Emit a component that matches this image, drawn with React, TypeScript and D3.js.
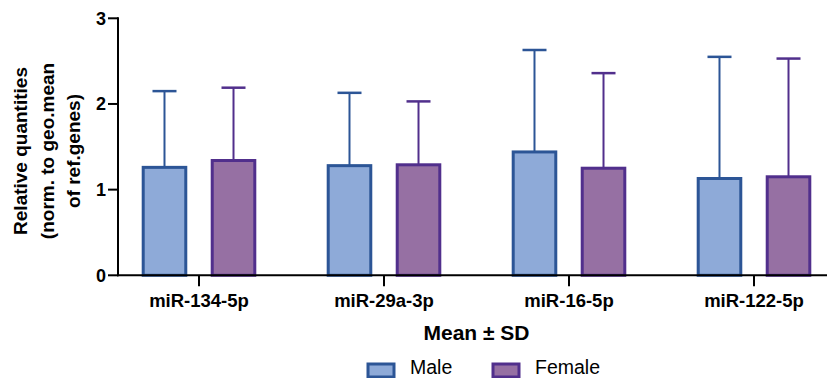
import React from 'react'
import * as d3 from 'd3'

// values
const categories = ['miR-134-5p', 'miR-29a-3p', 'miR-16-5p', 'miR-122-5p']
const groups = ['Male', 'Female']
const maleMean = [1.26, 1.28, 1.44, 1.13]
const maleSD = [0.89, 0.85, 1.19, 1.42]
const femaleMean = [1.34, 1.29, 1.25, 1.15]
const femaleSD = [0.85, 0.74, 1.11, 1.38]
const yTicks = [0, 1, 2, 3]

const fills = { Male: '#8eaad8', Female: '#9670a3' }
const strokes = { Male: '#2c5596', Female: '#512f8c' }

const W = 827
const H = 378
const font = 'Liberation Sans, Arial, Helvetica, sans-serif'

export default function App() {
  const x = d3.scalePoint().domain(categories).range([199, 754])
  const xSub = d3.scaleBand().domain(groups).range([-55.8, 55.8]).paddingInner(0.383)
  const y = d3.scaleLinear().domain([0, 3]).range([275.3, 18.3])

  const rows = []
  categories.forEach((c, i) => {
    rows.push({ cat: c, grp: 'Male', mean: maleMean[i], sd: maleSD[i] })
    rows.push({ cat: c, grp: 'Female', mean: femaleMean[i], sd: femaleSD[i] })
  })

  const bw = xSub.bandwidth()

  return (
    <svg width={W} height={H} style={{ position: 'absolute', left: 0, top: 0 }} fontFamily={font}>
      {/* bars + error bars */}
      {rows.map((d, i) => {
        const x0 = x(d.cat) + xSub(d.grp)
        const cx = x0 + bw / 2
        const top = y(d.mean)
        const errTop = y(d.mean + d.sd)
        return (
          <g key={i}>
            <line x1={cx} x2={cx} y1={top} y2={errTop} stroke={strokes[d.grp]} strokeWidth={2} />
            <line x1={cx - 12} x2={cx + 12} y1={errTop} y2={errTop} stroke={strokes[d.grp]} strokeWidth={2.5} />
            <rect x={x0} y={top} width={bw} height={y(0) - top}
              fill={fills[d.grp]} stroke={strokes[d.grp]} strokeWidth={3} />
          </g>
        )
      })}

      {/* y axis */}
      <line x1={118} x2={118} y1={y(3) - 1} y2={y(0) + 1} stroke="#000" strokeWidth={2} />
      {yTicks.map(t => (
        <g key={t}>
          <line x1={108} x2={118} y1={y(t)} y2={y(t)} stroke="#000" strokeWidth={2} />
          <text x={106} y={y(t)} dy="0.36em" textAnchor="end" fontSize={18} fontWeight="bold">{t}</text>
        </g>
      ))}

      {/* x axis */}
      <line x1={117} x2={W} y1={y(0)} y2={y(0)} stroke="#000" strokeWidth={2} />
      {categories.map(c => (
        <g key={c}>
          <line x1={x(c)} x2={x(c)} y1={y(0)} y2={y(0) + 11} stroke="#000" strokeWidth={2} />
          <text x={x(c)} y={306.5} textAnchor="middle" fontSize={18.5} fontWeight="bold">{c}</text>
        </g>
      ))}

      {/* axis titles */}
      <text x={476.5} y={340} textAnchor="middle" fontSize={21} fontWeight="bold">Mean ± SD</text>
      <g transform="translate(0,151) rotate(-90)" fontSize={19} fontWeight="bold" textAnchor="middle">
        <text x={0} y={27}>Relative quantities</text>
        <text x={0} y={54}>(norm. to geo.mean</text>
        <text x={0} y={80}>of ref.genes)</text>
      </g>

      {/* legend */}
      {groups.map((g, i) => {
        const lx = i === 0 ? 368 : 493
        return (
          <g key={g}>
            <rect x={lx} y={364} width={26} height={13} fill={fills[g]} stroke={strokes[g]} strokeWidth={3} />
            <text x={lx + 42} y={374} fontSize={19.5}>{g}</text>
          </g>
        )
      })}
    </svg>
  )
}
